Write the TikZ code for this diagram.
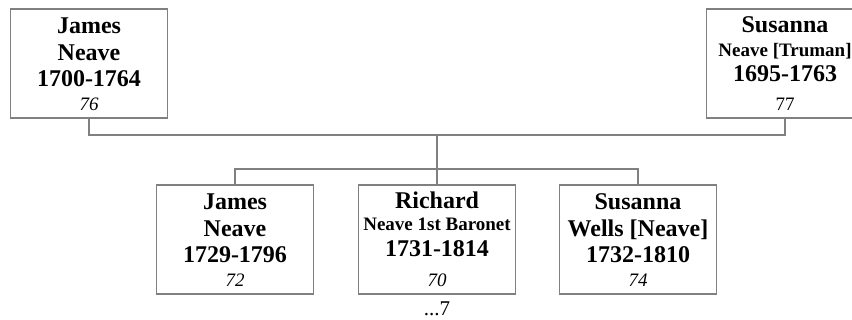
\documentclass[tikz,border=0pt]{standalone}
\usepackage{fontspec}
\setmainfont{Liberation Serif}
\usetikzlibrary{positioning}
\tikzset{
  person/.style={draw=black!50, line width=1.1pt, minimum width=157pt, minimum height=109pt, inner sep=0pt},
  bigline/.style={anchor=base, inner sep=0pt, font=\fontsize{24}{26}\selectfont\bfseries},
  smallline/.style={anchor=base, inner sep=0pt, font=\fontsize{19}{21}\selectfont\bfseries},
  age/.style={anchor=base, inner sep=0pt, font=\fontsize{19}{21}\selectfont\itshape},
  link/.style={draw=black!50, line width=1.1pt},
}
\begin{document}
\begin{tikzpicture}[x=1pt,y=1pt]
        \useasboundingbox (0,0) rectangle (852,-320) ;
        % parents
        \node[person] (jamesP) at (89,-63.5) {} ;
        \node[bigline] (jamesPa) at ([yshift=-25pt]jamesP.north) {James} ;
        \node[bigline] (jamesPb) at ([yshift=-52pt]jamesP.north) {Neave} ;
        \node[bigline] (jamesPc) at ([yshift=-78pt]jamesP.north) {1700-1764} ;
        \node[age] (jamesPd) at ([yshift=-102pt]jamesP.north) {76} ;
        \node[person] (susannaP) at (785,-63.5) {} ;
        \node[bigline] (susannaPa) at ([yshift=-24pt]susannaP.north) {Susanna} ;
        \node[smallline] (susannaPb) at ([yshift=-48pt]susannaP.north) {Neave [Truman]} ;
        \node[bigline] (susannaPc) at ([yshift=-73pt]susannaP.north) {1695-1763} ;
        \node[age, font=\fontsize{19}{21}\selectfont] (susannaPd) at ([yshift=-102pt]susannaP.north) {77} ;
        % children
        \node[person] (jamesC) at (235,-239.5) {} ;
        \node[bigline] (jamesCa) at ([yshift=-25pt]jamesC.north) {James} ;
        \node[bigline] (jamesCb) at ([yshift=-52pt]jamesC.north) {Neave} ;
        \node[bigline] (jamesCc) at ([yshift=-78pt]jamesC.north) {1729-1796} ;
        \node[age] (jamesCd) at ([yshift=-102pt]jamesC.north) {72} ;
        \node[person] (richardC) at (437,-239.5) {} ;
        \node[bigline] (richardCa) at ([yshift=-24pt]richardC.north) {Richard} ;
        \node[smallline] (richardCb) at ([yshift=-46pt]richardC.north) {Neave 1st Baronet} ;
        \node[bigline] (richardCc) at ([yshift=-72pt]richardC.north) {1731-1814} ;
        \node[age] (richardCd) at ([yshift=-102pt]richardC.north) {70} ;
        \node[anchor=base, inner sep=0pt, font=\fontsize{21}{23}\selectfont] (more) at ([yshift=-21pt]richardC.south) {...7} ;
        \node[person] (susannaC) at (638,-239.5) {} ;
        \node[bigline] (susannaCa) at ([yshift=-25pt]susannaC.north) {Susanna} ;
        \node[bigline] (susannaCb) at ([yshift=-52pt]susannaC.north) {Wells [Neave]} ;
        \node[bigline] (susannaCc) at ([yshift=-78pt]susannaC.north) {1732-1810} ;
        \node[age] (susannaCd) at ([yshift=-102pt]susannaC.north) {74} ;
        % links
        \coordinate (wed) at (437,-135) ;
        \coordinate (kids) at (437,-169) ;
        \draw[link] (jamesP.south) |- (wed) -| (susannaP.south) ;
        \draw[link] (wed) -- (kids) -- (richardC.north) ;
        \draw[link] (jamesC.north) |- (kids) -| (susannaC.north) ;
\end{tikzpicture}
\end{document}
